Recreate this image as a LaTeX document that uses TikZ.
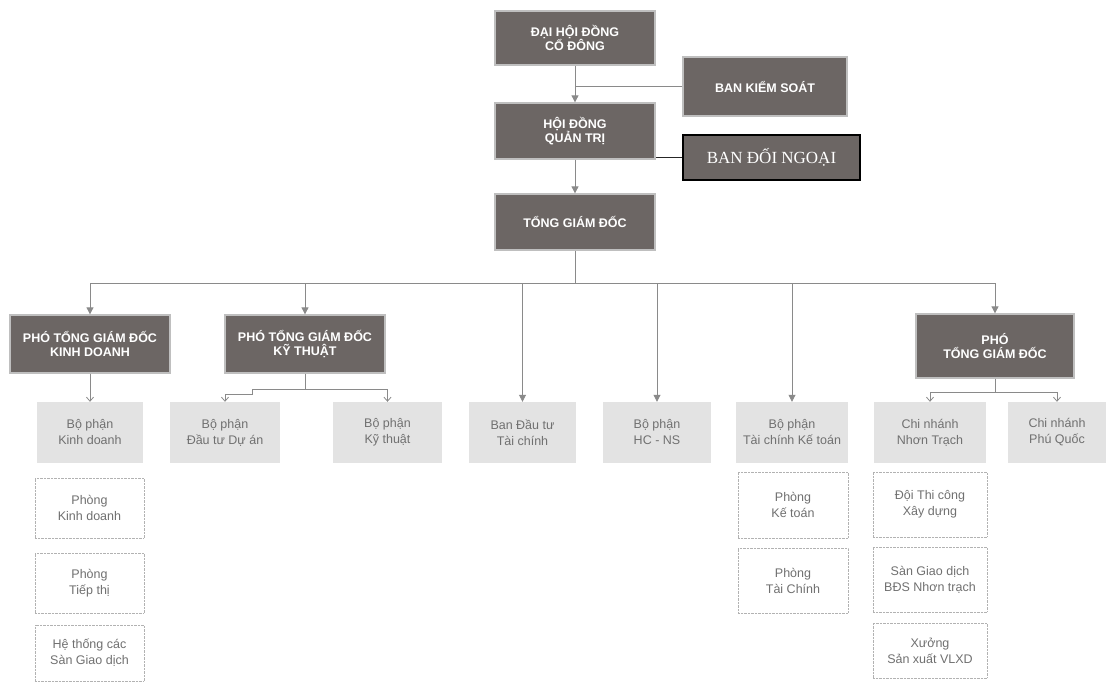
\documentclass[tikz,border=0pt]{standalone}
\usepackage{fontspec}
\setmainfont{Liberation Sans}
\newfontfamily\serifB{Liberation Serif}
\usetikzlibrary{arrows.meta}
\definecolor{dkfill}{HTML}{6C6664}
\definecolor{ltfill}{HTML}{E3E3E3}
\definecolor{lttext}{HTML}{707070}
\definecolor{conn}{HTML}{8A8A8A}
\begin{document}
\begin{tikzpicture}[x=1pt,y=-1pt,
  dk/.style={draw=black!25, line width=1.3pt, fill=dkfill, text=white,
    font=\fontsize{12.5}{14}\selectfont\bfseries, align=center, inner sep=0pt},
  lt/.style={fill=ltfill, text=lttext, font=\fontsize{12.5}{16}\selectfont,
    align=center, inner sep=0pt, minimum height=61pt},
  wt/.style={draw=black!30, densely dotted, fill=white, text=lttext,
    font=\fontsize{12.5}{16}\selectfont, align=center, inner sep=0pt},
  con/.style={draw=conn, line width=0.8pt},
  fa/.style={-{Triangle[length=7pt,width=7pt]}},
  oa/.style={-{Straight Barb[length=4pt,width=7pt]}}
]
\useasboundingbox (0,0) rectangle (1112,681);

% top level
\node[dk, minimum width=160pt, minimum height=54pt] (dh) at (575,38) {ĐẠI HỘI ĐỒNG\\CỔ ĐÔNG};
\node[dk, minimum width=164pt, minimum height=59pt] (bks) at (765,86.5) {BAN KIỂM SOÁT};
\node[dk, minimum width=160pt, minimum height=56pt] (hd) at (575,131) {HỘI ĐỒNG\\QUẢN TRỊ};
\node[draw=black, line width=1.2pt, fill=dkfill, text=white, inner sep=0pt,
  minimum width=177pt, minimum height=45pt, font=\serifB\fontsize{17}{18}\selectfont] (bdn) at (771.5,157.5) {BAN ĐỐI NGOẠI};
\node[dk, minimum width=160pt, minimum height=56pt] (tgd) at (575,222) {TỔNG GIÁM ĐỐC};

% second level
\node[dk, minimum width=160pt, minimum height=58pt] (kd) at (90,344) {PHÓ TỔNG GIÁM ĐỐC\\KINH DOANH};
\node[dk, minimum width=160pt, minimum height=58pt] (kt) at (305,344) {PHÓ TỔNG GIÁM ĐỐC\\KỸ THUẬT};
\node[dk, minimum width=158pt, minimum height=64pt] (pr) at (995,346) {PHÓ\\TỔNG GIÁM ĐỐC};

% light row
\node[lt, minimum width=106pt] (bpkd) at (90,432.5) {Bộ phận\\Kinh doanh};
\node[lt, minimum width=110pt] (dtda) at (225,432.5) {Bộ phận\\Đầu tư Dự án};
\node[lt, minimum width=109pt] (bpkt) at (387.5,432.5) {Bộ phận\\Kỹ thuật};
\node[lt, minimum width=107pt] (bdt) at (522.5,432.5) {Ban Đầu tư\\Tài chính};
\node[lt, minimum width=108pt] (hcns) at (657,432.5) {Bộ phận\\HC - NS};
\node[lt, minimum width=112pt] (tckt) at (792,432.5) {Bộ phận\\Tài chính Kế toán};
\node[lt, minimum width=112pt] (nt) at (930,432.5) {Chi nhánh\\Nhơn Trạch};
\node[lt, minimum width=98pt] (pq) at (1057,432.5) {Chi nhánh\\Phú Quốc};

% white boxes
\node[wt, minimum width=109pt, minimum height=60pt] (pkd) at (89.5,508) {Phòng\\Kinh doanh};
\node[wt, minimum width=109pt, minimum height=60pt] (ptt) at (89.5,583) {Phòng\\Tiếp thị};
\node[wt, minimum width=109pt, minimum height=56pt] (hts) at (89.5,653) {Hệ thống các\\Sàn Giao dịch};
\node[wt, minimum width=110pt, minimum height=66pt] (pkt) at (793,505) {Phòng\\Kế toán};
\node[wt, minimum width=110pt, minimum height=65pt] (ptc) at (793,580.5) {Phòng\\Tài Chính};
\node[wt, minimum width=114pt, minimum height=65pt] (dtc) at (930,504.5) {Đội Thi công\\Xây dựng};
\node[wt, minimum width=114pt, minimum height=65pt] (sgd) at (930,579.5) {Sàn Giao dịch\\BĐS Nhơn trạch};
\node[wt, minimum width=114pt, minimum height=55pt] (xsx) at (930,650.5) {Xưởng\\Sản xuất VLXD};

% top connectors
\draw[con,fa] (dh.south) -- (hd.north);
\draw[con] (bks.west) -- (bks.west -| dh.south);
\draw[draw=black!85, line width=0.9pt] (bdn.west) -- (bdn.west -| hd.east);
\draw[con,fa] (hd.south) -- (tgd.north);

% bus
\coordinate (bus) at (575,283);
\draw[con] (tgd.south) -- (bus);
\draw[con] (bus -| kd.north) -- (bus -| pr.north);
\draw[con,fa] (bus -| kd.north) -- (kd.north);
\draw[con,fa] (bus -| kt.north) -- (kt.north);
\draw[con,fa] (bus -| bdt.north) -- (bdt.north);
\draw[con,fa] (bus -| hcns.north) -- (hcns.north);
\draw[con,fa] (bus -| tckt.north) -- (tckt.north);
\draw[con,fa] (bus -| pr.north) -- (pr.north);

% sub connectors
\draw[con,oa] (kd.south) -- (bpkd.north);
\draw[con] (kt.south) -- ++(0,16) coordinate (ktb);
\draw[con,oa] (ktb) -| (bpkt.north);
\draw[con,oa] (ktb) -- ++(-53,0) -- ++(0,5) -| (dtda.north);
\draw[con] (pr.south) -- ++(0,14) coordinate (prb);
\draw[con,oa] (prb) -| (nt.north);
\draw[con,oa] (prb) -| (pq.north);
\end{tikzpicture}
\end{document}
